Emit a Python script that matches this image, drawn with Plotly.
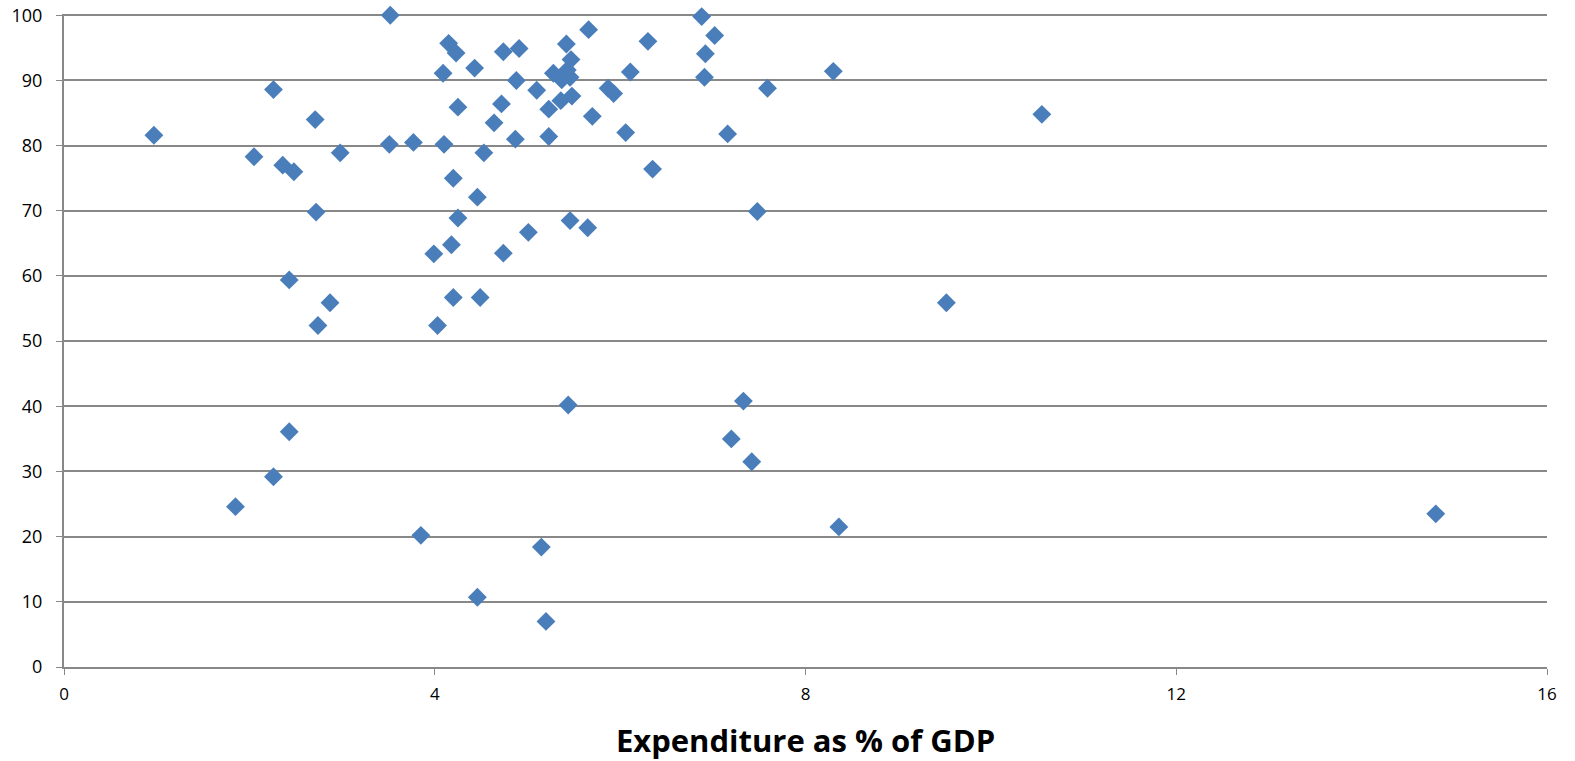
import plotly.graph_objects as go

expenditure = [
    0.97, 2.05, 2.26, 2.36, 2.48, 2.71, 2.98, 2.72, 2.43, 2.87, 2.74,
    1.85, 2.26, 2.43,
    3.52, 3.51, 3.77, 3.85, 3.99, 4.03, 4.09, 4.10, 4.15, 4.23, 4.25,
    4.43, 4.74, 4.91, 4.88, 5.10, 4.72, 4.64, 5.23, 4.87, 4.53, 4.20,
    5.42, 5.47, 5.28, 5.43, 5.37, 5.46, 5.48, 5.36, 5.23,
    5.66, 6.30, 6.11, 5.87, 5.93, 5.70, 6.06, 6.35,
    6.88, 7.02, 6.92, 6.91, 7.59, 7.16, 7.48,
    4.46, 4.25, 5.46, 5.65, 5.01, 4.18, 4.74, 4.20, 4.49,
    8.30, 10.55, 9.52,
    5.44, 7.33, 7.20, 7.42, 5.15, 4.46, 5.20, 8.36, 14.80,
]
rate = [
    81.6, 78.3, 88.6, 77.0, 76.0, 84.0, 78.9, 69.8, 59.4, 55.9, 52.4,
    24.6, 29.2, 36.1,
    100.0, 80.2, 80.5, 20.2, 63.4, 52.4, 91.1, 80.2, 95.7, 94.2, 85.9,
    91.9, 94.4, 94.9, 90.0, 88.5, 86.4, 83.5, 81.4, 81.0, 78.9, 75.0,
    95.6, 93.2, 91.1, 91.6, 90.1, 90.5, 87.6, 86.9, 85.6,
    97.8, 96.0, 91.3, 88.8, 88.0, 84.5, 82.0, 76.4,
    99.8, 96.9, 94.1, 90.5, 88.8, 81.8, 69.9,
    72.1, 68.9, 68.5, 67.4, 66.7, 64.8, 63.5, 56.7, 56.7,
    91.4, 84.8, 55.9,
    40.2, 40.8, 35.0, 31.5, 18.4, 10.7, 7.0, 21.5, 23.5,
]

x_ticks = [0, 4, 8, 12, 16]
y_ticks = [0, 10, 20, 30, 40, 50, 60, 70, 80, 90, 100]

fig = go.Figure(
    go.Scatter(
        x=expenditure,
        y=rate,
        mode="markers",
        marker=dict(symbol="diamond", size=14.5, color="#4A7EBB", line=dict(width=0)),
        showlegend=False,
        cliponaxis=False,
    )
)

fig.update_layout(
    width=1575,
    height=761,
    paper_bgcolor="white",
    plot_bgcolor="white",
    margin=dict(l=64, r=28, t=14, b=94),
    font=dict(family="Open Sans, Liberation Sans, sans-serif", color="#000000", size=17),
    xaxis=dict(
        range=[0, 16],
        tickvals=x_ticks,
        showgrid=False,
        zeroline=False,
        showline=True,
        linecolor="#888888",
        linewidth=2,
        ticks="outside",
        ticklen=6,
        tickcolor="#888888",
        tickfont=dict(size=17),
        ticklabelstandoff=5,
        ticklabeloverflow="allow",
        automargin=False,
        title=dict(
            text="<b>Expenditure as % of GDP</b>",
            font=dict(size=31, family="Open Sans, Liberation Sans, sans-serif"),
            standoff=28,
        ),
    ),
    yaxis=dict(
        range=[0, 100.2],
        tickvals=y_ticks,
        showgrid=True,
        gridcolor="#888888",
        gridwidth=1.5,
        zeroline=False,
        showline=True,
        linecolor="#888888",
        linewidth=2,
        ticks="outside",
        ticklen=6,
        tickcolor="#888888",
        tickfont=dict(size=18),
        ticklabelstandoff=10,
        ticklabeloverflow="allow",
        automargin=False,
    ),
)

# remove the browser's default 8px body margin so the figure fills the window exactly
fig.write_html(
    "out.html",
    config={"displayModeBar": False},
    post_script="document.body.style.margin='0';document.body.style.overflow='hidden';",
)
